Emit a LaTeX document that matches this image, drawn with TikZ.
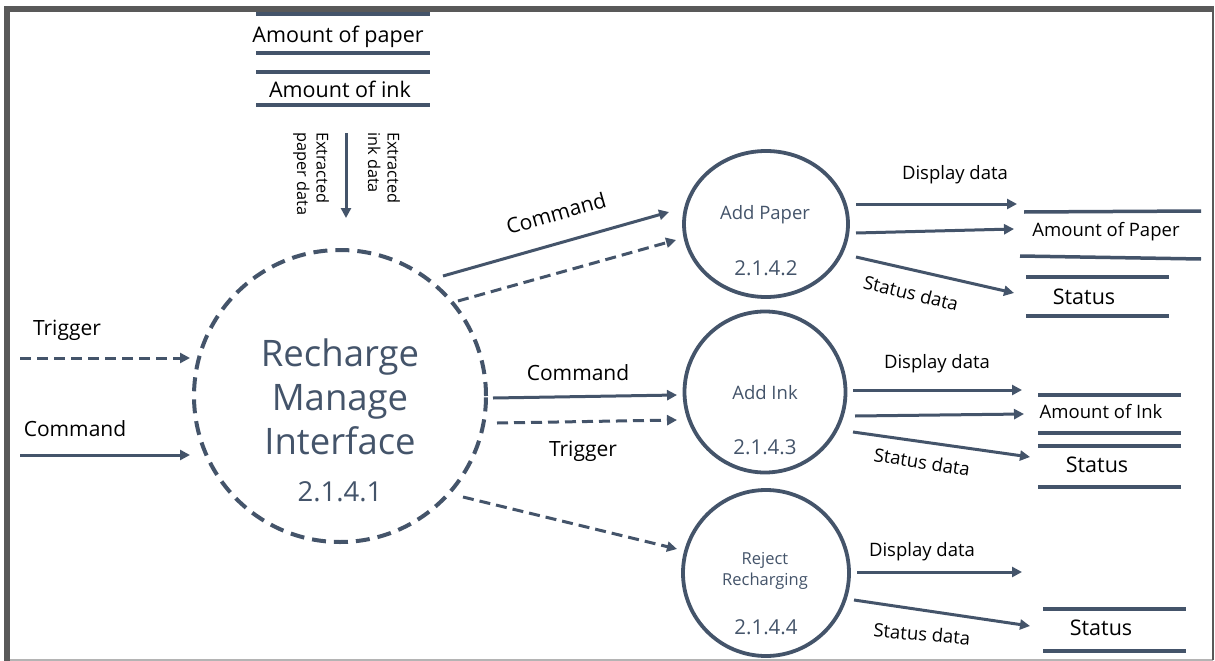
\documentclass[tikz,border=0pt]{standalone}
\usepackage{fontspec}
\setmainfont{Open Sans}
\usetikzlibrary{arrows.meta,shapes.geometric}
\definecolor{slate}{HTML}{44546A}
\definecolor{framedark}{HTML}{595959}
\definecolor{framelight}{HTML}{B4B4B4}

\begin{document}
\begin{tikzpicture}[x=1pt,y=-1pt,
  flow/.style={draw=slate,line width=3pt,-{Triangle[length=10pt,width=10pt]}},
  dflow/.style={flow,dash pattern=on 11pt off 6pt},
  proc/.style={draw=slate,line width=3.8pt,ellipse,inner sep=0pt},
  storeline/.style={draw=slate,line width=3.5pt},
  lbl/.style={inner sep=0pt,text=black,font=\fontsize{21}{23}\selectfont},
  slbl/.style={inner sep=0pt,text=black,font=\fontsize{18.5}{21}\selectfont},
  vlbl/.style={inner sep=0pt,text=black,font=\fontsize{16.3}{19.5}\selectfont,align=left,rotate=-90,anchor=west},
  ptext/.style={inner sep=0pt,text=slate,font=\fontsize{18.5}{21}\selectfont,align=center},
  pnum/.style={inner sep=0pt,text=slate,font=\fontsize{20.5}{23}\selectfont}]

\useasboundingbox (0,0) rectangle (1215,661);

% frame
\fill[white] (0,0) rectangle (1215,661);
\draw[framelight,line width=1.5pt] (10,660) -- (1213,660);
\draw[framedark,line width=1.5pt] (1213,9) -- (1213,660);
\draw[framedark,line width=6pt] (7,661) -- (7,9) -- (1214,9);

% data stores at the top
\draw[storeline] (256,14) -- (430,14);
\node[lbl,font=\fontsize{21.5}{23}\selectfont] (paperstore) at (338,37) {Amount of paper};
\draw[storeline] (256,53) -- (430,53);
\draw[storeline] (256,72) -- (430,72);
\node[lbl,font=\fontsize{21.5}{23}\selectfont] (inkstore) at (340,89) {Amount of ink};
\draw[storeline] (256,105) -- (430,105);

% main process
\node[proc,minimum size=292pt,line width=4pt,dash pattern=on 14pt off 8pt] (rmi) at (340,396) {};
\node[inner sep=0pt,text=slate,font=\fontsize{36.5}{44}\selectfont,align=center] (rmitxt) at (340,397) {Recharge\\Manage\\Interface};
\node[inner sep=0pt,text=slate,font=\fontsize{27.5}{30}\selectfont] (rminum) at (340,492) {2.1.4.1};

% extraction from the stores
\coordinate (exA) at (346,133);
\coordinate (exB) at (346,218);
\draw[flow] (exA) -- (exB);
\node[vlbl] (exp) at (311,132) {Extracted\\paper data};
\node[vlbl] (exi) at (384,132) {Extracted\\ink data};

% sub-processes
\node[proc,minimum width=164pt,minimum height=146pt] (addpaper) at (766,224) {};
\node[ptext] (addpapertxt) at (765,215) {Add Paper};
\node[pnum] (addpapernum) at (766,268) {2.1.4.2};

\node[proc,minimum size=161pt] (addink) at (765,392) {};
\node[ptext] (addinktxt) at (765,393) {Add Ink};
\node[pnum] (addinknum) at (765,447) {2.1.4.3};

\node[proc,minimum width=166pt,minimum height=166pt] (reject) at (766,573) {};
\node[ptext,font=\fontsize{16.5}{21}\selectfont] (rejecttxt) at (765,571) {Reject\\Recharging};
\node[pnum] (rejectnum) at (766,627) {2.1.4.4};

% inputs on the left
\coordinate (trigS) at (20,358);
\coordinate (trigE) at (190,358);
\draw[dflow] (trigS) -- (trigE);
\node[lbl] (trigl) at (67,330) {Trigger};
\coordinate (cmdS) at (20,455);
\coordinate (cmdE) at (190,455);
\draw[flow] (cmdS) -- (cmdE);
\node[lbl] (cmdl) at (75,429) {Command};

% main process to Add Paper
\coordinate (p1S) at (443,276);
\coordinate (p1E) at (669,212);
\draw[flow] (p1S) -- (p1E);
\node[lbl,rotate=16] (p1l) at (556,213) {Command};
\coordinate (p2S) at (458,301);
\coordinate (p2E) at (676,240);
\draw[dflow] (p2S) -- (p2E);

% main process to Add Ink
\coordinate (i1S) at (493,398);
\coordinate (i1E) at (677,395);
\draw[flow] (i1S) -- (i1E);
\node[lbl] (i1l) at (578,373) {Command};
\coordinate (i2S) at (497,423);
\coordinate (i2E) at (677,420);
\draw[dflow] (i2S) -- (i2E);
\node[lbl] (i2l) at (583,451) {Trigger};

% main process to Reject Recharging
\coordinate (r1S) at (463,497);
\coordinate (r1E) at (677,549);
\draw[dflow] (r1S) -- (r1E);

% Add Paper outputs
\coordinate (ap1S) at (856,204);
\coordinate (ap1E) at (1017,204);
\draw[flow] (ap1S) -- (ap1E);
\node[slbl] (ap1l) at (955,175) {Display data};
\coordinate (ap2S) at (856,233);
\coordinate (ap2E) at (1014,229);
\draw[flow] (ap2S) -- (ap2E);
\coordinate (ap3S) at (856,257);
\coordinate (ap3E) at (1014,293);
\draw[flow] (ap3S) -- (ap3E);
\node[slbl,rotate=-14] (ap3l) at (911,293) {Status data};
\draw[storeline] (1024,212) -- (1201,211);
\node[slbl] (apstore) at (1106,232) {Amount of Paper};
\draw[storeline] (1020,256) -- (1201,259);
\draw[storeline] (1026,277) -- (1169,277);
\node[lbl,font=\fontsize{21.5}{23}\selectfont] (apstatus) at (1084,297) {Status};
\draw[storeline] (1026,316) -- (1169,316);

% Add Ink outputs
\coordinate (ai1S) at (853,390);
\coordinate (ai1E) at (1022,390);
\draw[flow] (ai1S) -- (ai1E);
\node[slbl] (ai1l) at (937,364) {Display data};
\coordinate (ai2S) at (855,416);
\coordinate (ai2E) at (1024,414);
\draw[flow] (ai2S) -- (ai2E);
\coordinate (ai3S) at (853,432);
\coordinate (ai3E) at (1030,457);
\draw[flow] (ai3S) -- (ai3E);
\node[slbl,rotate=-9] (ai3l) at (922,462) {Status data};
\draw[storeline] (1038,395) -- (1181,395);
\node[slbl] (aistore) at (1101,412) {Amount of Ink};
\draw[storeline] (1038,433) -- (1181,433);
\draw[storeline] (1038,446) -- (1181,446);
\node[lbl,font=\fontsize{21.5}{23}\selectfont] (aistatus) at (1097,465) {Status};
\draw[storeline] (1038,487) -- (1181,487);

% Reject Recharging outputs
\coordinate (rj1S) at (857,572);
\coordinate (rj1E) at (1022,572);
\draw[flow] (rj1S) -- (rj1E);
\node[slbl] (rj1l) at (922,552) {Display data};
\coordinate (rj2S) at (854,600);
\coordinate (rj2E) at (1030,626);
\draw[flow] (rj2S) -- (rj2E);
\node[slbl,rotate=-5] (rj2l) at (922,634) {Status data};
\draw[storeline] (1043,609) -- (1186,609);
\node[lbl,font=\fontsize{21.5}{23}\selectfont] (rjstatus) at (1101,628) {Status};
\draw[storeline] (1043,651) -- (1186,651);

\end{tikzpicture}
\end{document}
